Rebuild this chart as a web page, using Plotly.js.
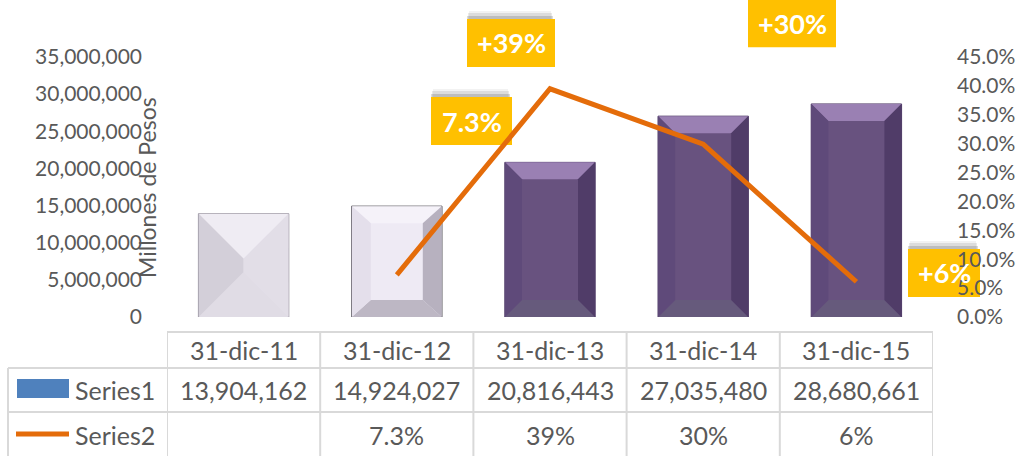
<!DOCTYPE html>
<html>
<head>
<meta charset="utf-8">
<script src="https://cdn.plot.ly/plotly-3.0.1.min.js"></script>
<style>html,body{margin:0;padding:0;background:#fff;}#chart{width:1018px;height:456px;}</style>
</head>
<body>
<div id="chart"></div>
<script>
// ---- data ----
const categories = ['31-dic-11', '31-dic-12', '31-dic-13', '31-dic-14', '31-dic-15'];
const series1 = [13904162, 14924027, 20816443, 27035480, 28680661];
const series2 = [null, 0.073, 0.395, 0.299, 0.061];
const series2Table = ['', '7.3%', '39%', '30%', '6%'];
const growthLabels = [null, '7.3%', '+39%', '+30%', '+6%'];
const seriesNames = ['Series1', 'Series2'];
const yTitle = 'Millones de Pesos';

// ---- layout geometry ----
const W = 1018, H = 456;
const L = 167, R = 933, T = 57, B = 317;
const plotW = R - L, plotH = B - T;
const yMax = 35000000, y2Max = 0.45;
const xPerPx = 5 / plotW, yPerPx = yMax / plotH;
const py = p => (B - p) / plotH;   // pixel row -> paper y
const px = p => (p - L) / plotW;   // pixel col -> paper x

const txt = '#595959';
const FONT = 'Lato, "Open Sans", sans-serif';

const idx = categories.map((c, i) => i);
const halfW = 45 * xPerPx;

// bevel styles per bar (style only)
const styles = idx.map(i => {
  if (i === 0) return {bx: halfW, by: 45 * yPerPx, c: '#E3DFE9', top: '#EFECF3', left: '#D3CFD9', right: '#E2DEE7', bot: '#E0DCE5', edge: '#8E8A96'};
  if (i === 1) return {bx: 19 * xPerPx, by: 17 * yPerPx, c: '#EEEAF4', top: '#F5F2F9', left: '#E4DFEB', right: '#B7B1BF', bot: '#BDB7C4', edge: '#55525A'};
  return {bx: 17 * xPerPx, by: 17 * yPerPx, c: '#68527F', top: '#9A80B3', left: '#5F4A7A', right: '#503C68', bot: '#665A7C', edge: '#503C68'};
});

const traces = [];
traces.push({
  type: 'bar', x: idx, y: series1, name: seriesNames[0], width: 0.59,
  marker: {color: idx.map(i => styles[i].c), line: {width: 1, color: idx.map(i => styles[i].edge)}},
  hoverinfo: 'skip', showlegend: false
});

idx.forEach(i => {
  const v = series1[i], s = styles[i];
  const l = i - halfW, r = i + halfW;
  const il = l + s.bx, ir = r - s.bx, ib = s.by, it = v - s.by;
  const facets = [
    {xs: [l, r, ir, il, l], ys: [v, v, it, it, v], col: s.top},
    {xs: [l, r, ir, il, l], ys: [0, 0, ib, ib, 0], col: s.bot},
    {xs: [l, l, il, il, l], ys: [0, v, it, ib, 0], col: s.left},
    {xs: [r, r, ir, ir, r], ys: [0, v, it, ib, 0], col: s.right}
  ];
  facets.forEach(f => traces.push({
    type: 'scatter', mode: 'lines', x: f.xs, y: f.ys, fill: 'toself', fillcolor: f.col,
    line: {width: 0, color: f.col}, hoverinfo: 'skip', showlegend: false
  }));
});

traces.push({
  type: 'scatter', mode: 'lines', x: idx, y: series2, yaxis: 'y2', name: seriesNames[1],
  line: {color: '#E46C0A', width: 5}, connectgaps: false, hoverinfo: 'skip', showlegend: false
});

// ---- annotations ----
const ann = [];
ann.push({xref: 'paper', yref: 'paper', x: px(147), y: py(188), text: yTitle, textangle: -90,
  showarrow: false, xanchor: 'center', yanchor: 'middle', font: {family: FONT, size: 23, color: txt}});

const shapes = [];

// growth labels: yellow boxes as paper shapes below the plot layers, text as annotations
const labelOffsets = [null, [74.7, 153.8], [-39, 45.8], [88.8, 121], [87.6, 8.8]];
const labelWidths = [null, 81, 88, 88, 72];
idx.forEach(i => {
  if (!growthLabels[i]) return;
  const [dx, dy] = labelOffsets[i];
  const hw = labelWidths[i] / 2;
  const cx = L + (i + 0.5) * plotW / categories.length + dx;
  const cy = B - series2[i] / y2Max * plotH - dy;
  const box = (ox, oy, shrink) => ({type: 'rect', layer: 'below', xref: 'paper', yref: 'paper',
    x0: px(cx - hw + shrink + ox), x1: px(cx + hw - shrink + ox), y0: py(cy + 24 + oy), y1: py(cy - 24 + oy)});
  shapes.push(Object.assign(box(-1, -8, 3), {fillcolor: 'rgba(0,0,0,0.05)', line: {width: 0}}));
  shapes.push(Object.assign(box(-1, -6, 2), {fillcolor: 'rgba(0,0,0,0.09)', line: {width: 0}}));
  shapes.push(Object.assign(box(-1, -3, 1), {fillcolor: 'rgba(0,0,0,0.14)', line: {width: 0}}));
  shapes.push(Object.assign(box(0, 0, 0), {fillcolor: '#FFC000', line: {width: 0}}));
  ann.push({xref: 'x', yref: 'y2', x: i, y: series2[i], xshift: dx, yshift: dy, showarrow: false,
    xanchor: 'center', yanchor: 'middle', text: '<b>' + growthLabels[i] + '</b>',
    font: {family: FONT, size: 27, color: '#FFFFFF'}});
});

// data table text
const tf = {family: FONT, size: 25, color: txt};
idx.forEach(i => {
  ann.push({xref: 'x', yref: 'paper', x: i, y: py(350), text: categories[i], showarrow: false, font: tf, yanchor: 'middle'});
  ann.push({xref: 'x', yref: 'paper', x: i, y: py(390), text: series1[i].toLocaleString('en-US'), showarrow: false, font: tf, yanchor: 'middle'});
  if (series2Table[i]) ann.push({xref: 'x', yref: 'paper', x: i, y: py(435), text: series2Table[i], showarrow: false, font: tf, yanchor: 'middle'});
});
ann.push({xref: 'paper', yref: 'paper', x: px(73), y: py(390), text: seriesNames[0], showarrow: false, font: tf, xanchor: 'left', yanchor: 'middle'});
ann.push({xref: 'paper', yref: 'paper', x: px(73), y: py(435), text: seriesNames[1], showarrow: false, font: tf, xanchor: 'left', yanchor: 'middle'});

// ---- table grid shapes ----
const gl = {color: '#D9D9D9', width: 2};
shapes.push({type: 'line', xref: 'paper', yref: 'paper', x0: 0, x1: 1, y0: py(332), y1: py(332), line: gl});
[368, 412].forEach(p => shapes.push({type: 'line', xref: 'paper', yref: 'paper', x0: px(8), x1: 1, y0: py(p), y1: py(p), line: gl}));
for (let k = 0; k <= categories.length; k++) {
  shapes.push({type: 'line', xref: 'x', yref: 'paper', x0: k - 0.5, x1: k - 0.5, y0: py(332), y1: py(460), line: gl});
}
shapes.push({type: 'line', xref: 'paper', yref: 'paper', x0: px(8), x1: px(8), y0: py(368), y1: py(460), line: gl});
// legend keys
shapes.push({type: 'rect', xref: 'paper', yref: 'paper', x0: px(17), x1: px(69), y0: py(379), y1: py(398), fillcolor: '#4F81BD', line: {width: 0}});
shapes.push({type: 'line', xref: 'paper', yref: 'paper', x0: px(16), x1: px(69), y0: py(434), y1: py(434), line: {color: '#E46C0A', width: 5}});

const layout = {
  width: W, height: H,
  margin: {l: L, r: W - R, t: T, b: H - B, pad: 0},
  paper_bgcolor: '#FFFFFF', plot_bgcolor: 'rgba(0,0,0,0)',
  font: {family: FONT, color: txt},
  showlegend: false,
  xaxis: {range: [-0.5, 4.5], showticklabels: false, showgrid: false, zeroline: false, showline: false, ticks: '', fixedrange: true},
  yaxis: {range: [0, yMax], dtick: 5000000, tickformat: ',.0f', showgrid: false, zeroline: false, showline: false,
    ticks: '', ticklabelstandoff: 24, tickfont: {family: FONT, size: 21, color: txt}},
  yaxis2: {range: [0, y2Max], dtick: 0.05, tickformat: '.1%', overlaying: 'y', side: 'right', showgrid: false,
    zeroline: false, showline: false, ticks: '', ticklabelstandoff: 23, tickfont: {family: FONT, size: 21, color: txt}},
  annotations: ann,
  shapes: shapes
};

Plotly.newPlot('chart', traces, layout, {displayModeBar: false, staticPlot: true});
</script>
</body>
</html>
